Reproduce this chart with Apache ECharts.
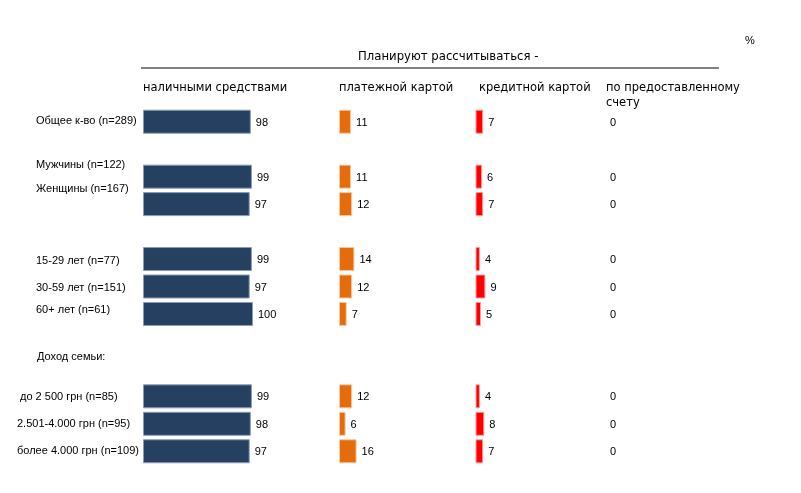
<!DOCTYPE html>
<html>
<head>
<meta charset="utf-8">
<script src="https://cdn.jsdelivr.net/npm/echarts@6/dist/echarts.min.js"></script>
<style>html,body{margin:0;padding:0;background:#fff}#c{width:801px;height:493px}</style>
</head>
<body>
<div id="c"></div>
<script>
// ---- data ----
const groups = ['Общее к-во (n=289)', 'Мужчины (n=122)', 'Женщины (n=167)', '15-29 лет (n=77)', '30-59 лет (n=151)', '60+ лет (n=61)', 'до 2 500 грн (n=85)', '2.501-4.000 грн (n=95)', 'более 4.000 грн (n=109)'];
const incomeHeader = 'Доход семьи:';
const cash = [98, 99, 97, 99, 97, 100, 99, 98, 97];
const paymentCard = [11, 11, 12, 14, 12, 7, 12, 6, 16];
const creditCard = [7, 6, 7, 4, 9, 5, 4, 8, 7];
const account = [0, 0, 0, 0, 0, 0, 0, 0, 0];
const columnTitles = ['наличными средствами', 'платежной картой', 'кредитной картой', 'по предоставленному\nсчету'];
const mainTitle = 'Планируют рассчитываться -';
const unitLabel = '%';

// ---- layout (row slots, including blank separator rows) ----
const groupSlots = [0, 2, 3, 5, 6, 7, 10, 11, 12];
const headerSlot = 9;
const nSlots = 13;
const categories = [];
for (let i = 0; i < nSlots; i++) categories.push(' '.repeat(i + 1));
groupSlots.forEach((s, k) => categories[s] = groups[k]);
categories[headerSlot] = incomeHeader;
function toSlots(arr) {
  const out = new Array(nSlots).fill(null);
  groupSlots.forEach((s, k) => out[s] = arr[k]);
  return out;
}
// per-row label adjustments (left pad px, vertical shift px)
const labelAdjust = {
  0: [19, -1], 2: [19, -12], 3: [19, -15], 5: [19, 2], 6: [19, 1], 7: [19, -4],
  9: [20, -12], 10: [3, 1], 11: [0, 0], 12: [0, 0]
};
const rich = {};
for (let i = 0; i < nSlots; i++) {
  const a = labelAdjust[i] || [0, 0];
  const sh = a[1];
  rich['r' + i] = {
    fontFamily: 'Liberation Sans, Arial, sans-serif', fontSize: 11, color: '#000',
    padding: [sh > 0 ? 2 * sh : 0, 0, sh < 0 ? -2 * sh : 0, a[0]]
  };
}

const gridLefts = [143, 339, 475.5, 605];
const colors = ['#254061', '#E46C0A', '#FF0000', '#7F7F7F'];
const borders = ['#8A9BB3', '#F9C8A0', '#FF9C9C', '#FFFFFF'];
const borderWidths = [1, 1, 1, 0];
const seriesData = [cash, paymentCard, creditCard, account];

const font = 'Liberation Sans, Arial, sans-serif';
const grids = [], xAxes = [], yAxes = [], series = [];
gridLefts.forEach((left, g) => {
  grids.push({left: left, width: 110, top: 108, bottom: 28});
  xAxes.push({type: 'value', gridIndex: g, min: 0, max: 100, show: false});
  yAxes.push({
    type: 'category', gridIndex: g, data: categories, inverse: true,
    axisLine: {show: false}, axisTick: {show: false}, splitLine: {show: false},
    axisLabel: g === 0 ? {
      show: true, align: 'left', margin: 126, interval: 0,
      formatter: (v, i) => '{r' + i + '|' + v + '}', rich: rich
    } : {show: false}
  });
  series.push({
    type: 'bar', xAxisIndex: g, yAxisIndex: g, data: toSlots(seriesData[g]),
    barWidth: 24, silent: true,
    itemStyle: {color: colors[g], borderColor: borders[g], borderWidth: borderWidths[g]},
    label: {show: true, position: 'right', distance: 5, color: '#000', fontSize: 11, fontFamily: font, offset: [0, 1]}
  });
});

const headFont = 'DejaVu Sans, sans-serif';
const graphic = [
  {type: 'text', left: 358, top: 51, style: {text: mainTitle, font: '11.7px ' + headFont, fill: '#000'}},
  {type: 'line', shape: {x1: 141, y1: 68, x2: 719, y2: 68}, style: {stroke: '#808080', lineWidth: 2}},
  {type: 'text', left: 745, top: 35, style: {text: unitLabel, font: '11px ' + font, fill: '#000'}}
];
const headLefts = [143, 339, 479, 606];
columnTitles.forEach((t, i) => graphic.push({
  type: 'text', left: headLefts[i], top: 81,
  style: {text: t, font: '11.5px ' + headFont, fill: '#000', lineHeight: 14.4}
}));

const chart = echarts.init(document.getElementById('c'), null, {renderer: 'canvas'});
chart.setOption({
  animation: false,
  backgroundColor: '#fff',
  grid: grids, xAxis: xAxes, yAxis: yAxes, series: series, graphic: graphic
});
</script>
</body>
</html>
